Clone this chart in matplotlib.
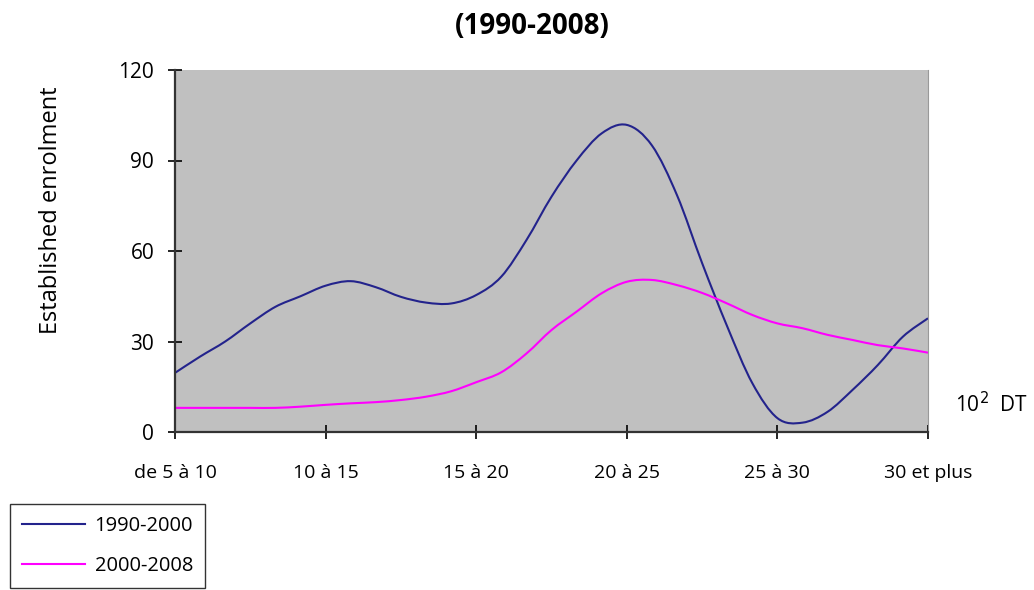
import numpy as np
import matplotlib
matplotlib.use("Agg")
import matplotlib.pyplot as plt
from matplotlib.path import Path
from matplotlib.patches import PathPatch
from matplotlib.lines import Line2D

plt.rcParams['font.family'] = ['Open Sans', 'DejaVu Sans']

# Category labels on the x axis
categories = ["de 5 à 10", "10 à 15", "15 à 20", "20 à 25", "25 à 30", "30 et plus"]

# Values read every 1/6 of a category step
steps_per_cat = 6
enrol_1990_2000 = [19.6, 25, 30, 36, 41.5, 45, 48.5, 50, 48, 44.8, 42.9, 42.6, 45.4,
                   51.5, 63.6, 78, 90, 99, 101.8, 95, 78.5, 56, 35, 16.2, 4.6, 3.1,
                   6.7, 14, 22.2, 31.6, 37.7]
enrol_2000_2008 = [8, 8, 8, 8, 8, 8.4, 9, 9.5, 9.9, 10.6, 11.7, 13.5, 16.5, 19.8, 26,
                   33.8, 39.9, 46, 49.8, 50.4, 48.7, 46.1, 42.6, 38.8, 36, 34.4, 32.2,
                   30.5, 28.8, 27.7, 26.3]
y_ticks = [0, 30, 60, 90, 120]

x = np.arange(len(enrol_1990_2000)) / steps_per_cat


def smooth_path(xs, ys):
    # Excel-like smoothed line: cubic Bezier segments through every point
    p = np.column_stack([xs, ys]).astype(float)
    ext = np.vstack([p[0], p, p[-1]])
    verts = [p[0]]
    codes = [Path.MOVETO]
    for i in range(len(p) - 1):
        p0, p1, p2, p3 = ext[i], ext[i + 1], ext[i + 2], ext[i + 3]
        verts += [p1 + (p2 - p0) / 6, p2 - (p3 - p1) / 6, p2]
        codes += [Path.CURVE4] * 3
    return Path(verts, codes)


fig = plt.figure(figsize=(10.34, 5.9), dpi=100)
ax = fig.add_axes([175 / 1034, 1 - 432 / 590, 753 / 1034, 362 / 590])
ax.set_facecolor("#C0C0C0")

blue = "#23238C"
pink = "#FF00FF"
for ys, col in [(enrol_1990_2000, blue), (enrol_2000_2008, pink)]:
    ax.add_patch(PathPatch(smooth_path(x, ys), facecolor="none", edgecolor=col,
                           lw=1.5, clip_on=True))

ax.set_xlim(0, len(categories) - 1)
ax.set_ylim(0, 120)
ax.set_xticks(range(len(categories)))
ax.set_xticklabels(categories, fontsize=14)
ax.set_yticks(y_ticks)
ax.set_yticklabels([str(v) for v in y_ticks], fontsize=15)
ax.tick_params(axis="x", direction="inout", length=10, width=1.2, pad=18)
ax.tick_params(axis="y", direction="inout", length=10, width=1.2, pad=10)

for side in ["left", "bottom"]:
    ax.spines[side].set_color("#333333")
    ax.spines[side].set_linewidth(1.6)
ax.spines["top"].set_visible(False)
ax.spines["right"].set_color("#999999")
ax.spines["right"].set_linewidth(0.8)

ax.set_ylabel("Established enrolment", fontsize=17)
ax.yaxis.set_label_coords(-0.149, 0.613)
fig.text(532 / 1034, 1 - 26 / 590, "(1990-2008)", fontsize=20, fontweight="bold",
         ha="center", va="center")
fig.text(955 / 1034, 1 - 405 / 590, r"10$^{2}$  DT", fontsize=15, ha="left", va="center")

handles = [Line2D([], [], color=blue, lw=1.5), Line2D([], [], color=pink, lw=1.5)]
fig.legend(handles=handles, labels=["1990-2000", "2000-2008"], loc="lower left",
           bbox_to_anchor=(10 / 1034, 2 / 590), frameon=True, fancybox=False,
           edgecolor="black", fontsize=14.5, handlelength=3.1, borderaxespad=0,
           labelspacing=1.0, borderpad=0.6, handletextpad=0.5)

fig.savefig("out.png", dpi=100, facecolor="white")
